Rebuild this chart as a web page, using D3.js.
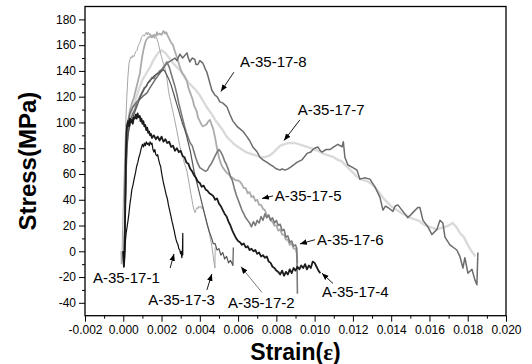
<!DOCTYPE html>
<html><head><meta charset="utf-8">
<script src="https://cdn.jsdelivr.net/npm/d3@7"></script>
<style>body{margin:0;background:#fff}svg{display:block}</style>
</head><body><svg id="c" width="532" height="364"></svg>
<script>
const xTicks = [-0.002,0,0.002,0.004,0.006,0.008,0.010,0.012,0.014,0.016,0.018,0.020];
const xMinor = [-0.001,0.001,0.003,0.005,0.007,0.009,0.011,0.013,0.015,0.017,0.019];
const yTicks = [-40,-20,0,20,40,60,80,100,120,140,160,180];
const yMinor = [-30,-10,10,30,50,70,90,110,130,150,170];
const seriesNames = ["A-35-17-1","A-35-17-2","A-35-17-3","A-35-17-4","A-35-17-5","A-35-17-6","A-35-17-7","A-35-17-8"];

const s1 = [[0,0],[0.00003,-9],[0.00006,-3],[0.0001,6],[0.00015,14],[0.0002,19],[0.00025,24],[0.0003,30],[0.00035,37],[0.0004,42],[0.00045,48],[0.0005,51],[0.00058,57],[0.00064,61],[0.0007,66],[0.00076,69],[0.00082,73],[0.00088,76],[0.00094,80],[0.001,83],[0.00106,81],[0.0011,84],[0.00116,82],[0.0012,85],[0.00126,83],[0.0013,84],[0.00136,82],[0.0014,85],[0.00146,83],[0.0015,84],[0.00155,79],[0.0016,77],[0.00165,79],[0.0017,75],[0.00176,74],[0.0018,75],[0.00185,71],[0.0019,68],[0.00195,66],[0.002,61],[0.00205,57],[0.0021,53],[0.00218,48],[0.00224,44],[0.0023,41],[0.00236,36],[0.00242,32],[0.00248,28],[0.00255,23],[0.0026,20],[0.00266,16],[0.0027,13],[0.00276,9],[0.0028,7],[0.00286,5],[0.0029,2],[0.00295,1],[0.003,-2],[0.00303,0],[0.00306,-5],[0.00309,-2],[0.00311,14],[0.00311,-3]];

const s2 = [[0,0],[0.00003,-12],[0.00006,-4],[0.0001,30],[0.00015,60],[0.0002,80],[0.00025,90],[0.0003,95],[0.0004,100],[0.0005,104],[0.0006,108],[0.0007,112],[0.0008,116],[0.0009,120],[0.001,123],[0.0011,126],[0.0012,128],[0.0013,131],[0.0014,133],[0.0015,134],[0.0016,136],[0.0017,137],[0.0018,138],[0.0019,139],[0.002,140],[0.0021,141],[0.0022,139],[0.0023,136],[0.0024,133],[0.0025,129],[0.0026,124],[0.0027,119],[0.0028,114],[0.0029,109],[0.003,104],[0.0031,99],[0.0032,95],[0.0033,90],[0.0034,84],[0.0035,78],[0.0036,70],[0.0037,62],[0.0038,56],[0.0039,50],[0.004,44],[0.0041,38],[0.0042,32],[0.0043,26],[0.0044,20],[0.0045,15],[0.0046,11],[0.0047,6],[0.0048,6],[0.0049,1],[0.005,2],[0.0051,-3],[0.0052,-1],[0.0053,-6],[0.0054,-4],[0.0055,-9],[0.0056,-7],[0.00573,-11],[0.00575,3]];

const s3 = [[-0.00012,0],[-0.0001,-10],[-0.00007,-4],[-0.00003,20],[0.00002,45],[0.00007,70],[0.00012,95],[0.00018,118],[0.00024,135],[0.0003,146],[0.00035,149],[0.0004,151],[0.00045,150],[0.0005,152],[0.00055,151],[0.0006,153],[0.00066,155],[0.00072,156],[0.00077,159],[0.00083,161],[0.0009,163],[0.00095,166],[0.001,167],[0.00106,168],[0.0011,167],[0.00116,169],[0.0012,170],[0.00125,168],[0.0013,170],[0.00136,168],[0.0014,169],[0.00146,167],[0.0015,168],[0.00156,166],[0.0016,167],[0.00166,165],[0.00172,166],[0.00176,165],[0.0018,163],[0.00185,160],[0.0019,157],[0.00196,153],[0.002,151],[0.00205,148],[0.0021,146],[0.00218,142],[0.00225,137],[0.0023,132],[0.00236,125],[0.00242,120],[0.00248,116],[0.00254,112],[0.0026,108],[0.00266,104],[0.0027,101],[0.00278,95],[0.00286,89],[0.00295,82],[0.003,79],[0.00307,75],[0.00315,71],[0.0032,68],[0.00327,65],[0.00333,62],[0.0034,56],[0.00347,50],[0.00353,45],[0.00359,40],[0.00365,35],[0.0037,32],[0.00375,30],[0.0038,32],[0.00386,34],[0.0039,33],[0.00395,35],[0.004,34],[0.00406,35],[0.0041,33],[0.00417,34],[0.00423,30],[0.0043,26],[0.00437,22],[0.00443,19],[0.0045,14],[0.00456,9],[0.00463,4],[0.00468,-2],[0.00472,-6],[0.00476,-10],[0.00479,-13],[0.0048,3]];

const s4 = [[0,0],[0.00003,-12],[0.00006,-5],[0.0001,30],[0.00013,70],[0.00017,92],[0.0002,98],[0.00025,101],[0.0003,97],[0.00035,103],[0.0004,100],[0.00045,102],[0.0005,99],[0.00055,104],[0.0006,103],[0.00065,106],[0.0007,103],[0.00075,107],[0.0008,104],[0.00087,105],[0.0009,101],[0.00095,103],[0.001,99],[0.00105,101],[0.0011,97],[0.00115,98],[0.0012,94],[0.00125,96],[0.0013,92],[0.00135,93],[0.0014,90],[0.00145,91],[0.0015,88],[0.0016,90],[0.0017,87],[0.0018,89],[0.0019,86],[0.002,89],[0.0021,85],[0.0022,87],[0.0023,84],[0.0024,85],[0.0025,81],[0.0026,82],[0.0027,78],[0.0028,80],[0.0029,77],[0.003,78],[0.0031,74],[0.0032,73],[0.0033,69],[0.0034,68],[0.0035,64],[0.0036,62],[0.0037,59],[0.0038,57],[0.0039,54],[0.004,53],[0.0041,50],[0.0042,51],[0.0043,48],[0.0044,47],[0.0045,45],[0.0046,44],[0.0047,43],[0.0048,40],[0.0049,41],[0.005,37],[0.0051,35],[0.0052,32],[0.0053,29],[0.0054,27],[0.0055,23],[0.0056,20],[0.0057,16],[0.0058,13],[0.0059,10],[0.006,8],[0.0061,7],[0.0062,5],[0.0063,6],[0.0064,3],[0.0065,4],[0.0066,1],[0.0067,2],[0.0068,0],[0.0069,1],[0.007,-2],[0.0071,-1],[0.0072,-4],[0.0073,-3],[0.0074,-5],[0.0075,-4],[0.0076,-8],[0.0077,-9],[0.0078,-12],[0.0079,-13],[0.008,-15],[0.0081,-16],[0.0082,-18],[0.0083,-15],[0.0084,-19],[0.0085,-16],[0.0086,-18],[0.0087,-14],[0.0088,-17],[0.0089,-13],[0.009,-15],[0.0091,-12],[0.0092,-14],[0.0093,-11],[0.0094,-13],[0.0095,-10],[0.0096,-14],[0.0097,-11],[0.0098,-13],[0.0099,-8],[0.01,-9],[0.0101,-12],[0.0102,-15],[0.0103,-17]];

const s5 = [[0,0],[0.00003,-10],[0.00006,-2],[0.0001,40],[0.00014,72],[0.00018,90],[0.00025,99],[0.0003,105],[0.00035,110],[0.0004,112],[0.00045,115],[0.0005,117],[0.00055,119],[0.0006,122],[0.00065,125],[0.0007,128],[0.00075,131],[0.0008,134],[0.00087,138],[0.0009,142],[0.00095,147],[0.001,152],[0.00105,156],[0.0011,159],[0.00115,162],[0.0012,164],[0.0013,166],[0.0014,167],[0.0015,166],[0.0016,168],[0.0017,167],[0.00176,170],[0.0018,168],[0.0019,169],[0.002,168],[0.0021,171],[0.00218,169],[0.00225,170],[0.00233,167],[0.0024,165],[0.0025,162],[0.0026,160],[0.0027,155],[0.0028,151],[0.0029,146],[0.00296,143],[0.003,141],[0.0031,138],[0.0032,136],[0.00333,132],[0.0034,127],[0.0035,123],[0.0036,119],[0.00364,117],[0.0037,113],[0.0038,110],[0.00385,108],[0.0039,104],[0.004,101],[0.0041,98],[0.00417,97],[0.0043,98],[0.00437,99],[0.00445,101],[0.00453,102],[0.0046,99],[0.0047,95],[0.0048,88],[0.0049,80],[0.005,73],[0.0051,68],[0.0052,65],[0.0053,63],[0.0054,61],[0.0055,60],[0.0056,58],[0.0057,57],[0.0058,56],[0.0059,55],[0.006,55],[0.0061,54],[0.0062,52],[0.0063,49],[0.0064,49],[0.0065,45],[0.0066,46],[0.0067,42],[0.0068,43],[0.0069,39],[0.007,40],[0.0071,36],[0.0072,36],[0.0073,33],[0.0074,32],[0.0075,28],[0.0076,28],[0.0077,24],[0.0078,23],[0.0079,20],[0.008,20],[0.0081,16],[0.0082,17],[0.0083,13],[0.0084,13],[0.0085,9],[0.0086,9],[0.0087,5],[0.0088,6],[0.0089,2],[0.009,2],[0.00907,-2],[0.0091,-9]];

const s6 = [[0,0],[0.00003,-11],[0.00006,-3],[0.0001,35],[0.00014,65],[0.00018,82],[0.00025,92],[0.0003,96],[0.00035,101],[0.0004,103],[0.0005,107],[0.0006,110],[0.0007,115],[0.0008,118],[0.0009,121],[0.001,124],[0.0011,127],[0.0012,128],[0.0013,131],[0.0014,132],[0.0015,135],[0.0016,134],[0.0017,137],[0.0018,138],[0.0019,140],[0.002,141],[0.0021,143],[0.0022,145],[0.00228,147],[0.0024,143],[0.0025,138],[0.0026,133],[0.0027,128],[0.0028,122],[0.0029,115],[0.003,109],[0.0031,103],[0.0032,97],[0.0033,92],[0.0034,88],[0.0035,84],[0.0036,82],[0.0037,77],[0.0038,72],[0.0039,68],[0.004,65],[0.0041,64],[0.0042,63],[0.0043,62],[0.0044,63],[0.0045,66],[0.0046,68],[0.0047,71],[0.0048,74],[0.0049,77],[0.005,79],[0.0051,77],[0.0052,74],[0.0053,70],[0.0054,67],[0.0055,63],[0.0056,58],[0.0057,55],[0.0058,49],[0.0059,44],[0.006,40],[0.0061,36],[0.0062,32],[0.0063,29],[0.0064,26],[0.0065,24],[0.0066,22],[0.0067,19],[0.0068,23],[0.0069,20],[0.007,24],[0.0071,22],[0.0072,27],[0.0073,24],[0.0074,29],[0.0075,26],[0.0076,28],[0.0077,24],[0.0078,26],[0.0079,22],[0.008,24],[0.0081,20],[0.0082,21],[0.0083,16],[0.0084,17],[0.0085,11],[0.0086,12],[0.0087,7],[0.0088,8],[0.0089,4],[0.009,5],[0.00907,2],[0.0091,-33]];

const s7 = [[0,0],[0.00003,-10],[0.00006,0],[0.0001,45],[0.00014,75],[0.00018,88],[0.00025,94],[0.00035,104],[0.00045,110],[0.0006,116],[0.00087,128],[0.001,133],[0.0012,138],[0.0014,143],[0.0016,149],[0.00182,154],[0.002,156],[0.0022,154],[0.0024,150],[0.0026,146],[0.0028,143],[0.003,140],[0.0032,135],[0.0034,131],[0.0036,128],[0.0038,125],[0.004,121],[0.0042,116],[0.0044,111],[0.0046,107],[0.0048,102],[0.005,98],[0.0052,94],[0.0054,89],[0.0056,86],[0.0058,83],[0.006,81],[0.0062,79],[0.0064,77],[0.0066,76],[0.0068,75],[0.007,74],[0.0072,73],[0.0074,73],[0.0076,74],[0.0078,76],[0.008,79],[0.0082,82],[0.0084,83],[0.0086,84],[0.0088,84],[0.009,84],[0.0092,83],[0.0094,82],[0.0096,81],[0.0098,80],[0.01,79],[0.0102,78],[0.0104,76],[0.0106,75],[0.0108,74],[0.011,73],[0.0112,71],[0.0114,70],[0.0116,67],[0.0118,64],[0.012,61],[0.0122,58],[0.0124,56],[0.0126,55],[0.0128,54],[0.013,52],[0.0132,49],[0.0134,45],[0.0136,41],[0.0138,38],[0.014,35],[0.0142,33],[0.0144,31],[0.0146,29],[0.0148,28],[0.015,26],[0.0152,25],[0.0154,24],[0.0156,22],[0.0158,20],[0.016,19],[0.0162,18],[0.0164,17],[0.0166,18],[0.0168,19],[0.017,20],[0.0172,22],[0.0174,19],[0.0176,14],[0.0178,11],[0.018,5],[0.0182,0],[0.0184,-4]];

const s8 = [[0,0],[0.00003,-11],[0.00006,-2],[0.0001,40],[0.00014,80],[0.00018,94],[0.00025,101],[0.00035,107],[0.0005,112],[0.0007,116],[0.00087,118],[0.001,120],[0.00124,123],[0.0014,127],[0.00166,133],[0.002,140],[0.00228,146],[0.0025,148],[0.0027,150],[0.0028,148],[0.00296,153],[0.0031,150],[0.00333,154],[0.0034,150],[0.00348,147],[0.0036,150],[0.00374,149],[0.0038,145],[0.0039,145],[0.004,148],[0.00416,146],[0.0043,141],[0.00437,139],[0.0045,132],[0.00463,125],[0.0048,121],[0.0049,120],[0.00505,116],[0.00521,115],[0.00542,112],[0.00558,106],[0.00573,101],[0.00594,97],[0.0061,95],[0.00626,93],[0.00646,89],[0.0066,86],[0.00677,81],[0.007,77],[0.00714,73],[0.0073,71],[0.00751,69],[0.0077,67],[0.00782,66],[0.008,64],[0.00819,63],[0.0083,64],[0.00845,63],[0.0086,64],[0.00871,65],[0.0089,67],[0.00907,69],[0.0092,70],[0.00934,71],[0.0095,74],[0.0096,76],[0.0098,77],[0.00991,79],[0.01,80],[0.01017,81],[0.0103,78],[0.01038,77],[0.0106,79],[0.0108,79],[0.011,81],[0.01122,83],[0.01143,81],[0.0115,85],[0.01158,73],[0.01174,67],[0.012,65],[0.01221,63],[0.01237,56],[0.0126,57],[0.01289,56],[0.01315,50],[0.01341,42],[0.01357,32],[0.0137,35],[0.01383,34],[0.01409,31],[0.0142,35],[0.01435,36],[0.01461,31],[0.01487,26],[0.015,28],[0.01513,30],[0.01539,34],[0.0155,34],[0.01566,24],[0.01592,19],[0.01613,13],[0.01639,17],[0.01655,24],[0.0167,22],[0.01681,11],[0.01707,5],[0.01743,1],[0.01759,-4],[0.01775,-13],[0.01785,-5],[0.01801,-17],[0.01822,-14],[0.01837,-22],[0.01848,-26],[0.01853,-1]];

// label text anchor (strain, stress) and arrow from -> to (strain, stress)
const labelText = [[-0.00158,-24.6],[0.00547,-44],[0.0013,-42],[0.01038,-35.5],[0.00792,39],[0.01012,5],[0.00912,106],[0.0061,143]];
const arrowFrom = [[0.00245,-13],[0.00725,-32],[0.00437,-30],[0.01096,-25],[0.00783,43],[0.01002,9],[0.00923,102],[0.00578,139]];
const arrowTo   = [[0.00265,-2],[0.00615,-12],[0.00463,-17.6],[0.01038,-17],[0.00725,41],[0.00923,5.7],[0.0084,86],[0.0051,124]];

const seriesData = [s1,s2,s3,s4,s5,s6,s7,s8];
const colors = ["#111111","#555555","#a6a6a6","#1c1c1c","#ababab","#7a7a7a","#dadada","#6c6c6c"];
const widths = [1.2,1.2,1.0,1.8,1.8,1.6,2.4,1.5];
const drawOrder = [6,4,2,7,5,1,3,0];

const svg = d3.select('#c');
const L=85,R=506,T=6.5,B=315.7;
const x = d3.scaleLinear().domain([-0.002,0.020]).range([L,R]);
const y = d3.scaleLinear().domain([-50,190]).range([B,T]);
const FONT = "'Liberation Sans', Arial, sans-serif";

function styleAxis(g){ g.select('.domain').remove(); g.selectAll('line').attr('stroke','#000').attr('stroke-width',1); g.selectAll('text').attr('font-family',FONT).attr('fill','#000'); }
svg.append('g').attr('transform',`translate(0,${B})`).call(d3.axisBottom(x).tickValues(xMinor).tickSize(3).tickFormat('')).call(styleAxis);
svg.append('g').attr('transform',`translate(0,${B})`).call(d3.axisBottom(x).tickValues(xTicks).tickSize(6).tickPadding(4).tickFormat(d=>d.toFixed(3))).call(styleAxis).selectAll('text').attr('font-size',12);
svg.append('g').attr('transform',`translate(${L},0)`).call(d3.axisLeft(y).tickValues(yMinor).tickSize(3).tickFormat('')).call(styleAxis);
svg.append('g').attr('transform',`translate(${L},0)`).call(d3.axisLeft(y).tickValues(yTicks).tickSize(6).tickPadding(3).tickFormat(d=>String(d))).call(styleAxis).selectAll('text').attr('font-size',12);

const line = d3.line().x(d=>x(d[0])).y(d=>y(d[1]));
drawOrder.forEach(i=>{
  svg.append('path').datum(seriesData[i]).attr('d',line).attr('fill','none')
    .attr('stroke',colors[i]).attr('stroke-width',widths[i]).attr('stroke-linejoin','round');
});

svg.append('rect').attr('x',L).attr('y',T).attr('width',R-L).attr('height',B-T)
  .attr('fill','none').attr('stroke','#000').attr('stroke-width',1.3);

svg.append('defs').append('marker').attr('id','ah').attr('viewBox','0 0 10 10').attr('refX',10).attr('refY',5)
  .attr('markerWidth',7).attr('markerHeight',7).attr('markerUnits','userSpaceOnUse').attr('orient','auto')
  .append('path').attr('d','M0,1 L10,5 L0,9 Z').attr('fill','#000');
seriesNames.forEach((n,i)=>{
  svg.append('line').attr('x1',x(arrowFrom[i][0])).attr('y1',y(arrowFrom[i][1]))
    .attr('x2',x(arrowTo[i][0])).attr('y2',y(arrowTo[i][1]))
    .attr('stroke', i===1?'#444':'#000').attr('stroke-width', i===1?0.7:0.9).attr('marker-end','url(#ah)');
  svg.append('text').attr('x',x(labelText[i][0])).attr('y',y(labelText[i][1]))
    .attr('font-family',FONT).attr('font-size',15).attr('fill','#000').text(n);
});

svg.append('text').attr('transform',`translate(36,${(T+B)/2}) rotate(-90)`).attr('text-anchor','middle')
  .attr('font-family',FONT).attr('font-weight','bold').attr('font-size',24).text('Stress(MPa)');
const xt = svg.append('text').attr('x',(L+R)/2).attr('y',360).attr('text-anchor','middle')
  .attr('font-family',FONT).attr('font-weight','bold').attr('font-size',23);
xt.append('tspan').text('Strain(');
xt.append('tspan').attr('font-family',"'Liberation Serif','DejaVu Serif',serif").text('ε');
xt.append('tspan').text(')');
</script></body></html>
